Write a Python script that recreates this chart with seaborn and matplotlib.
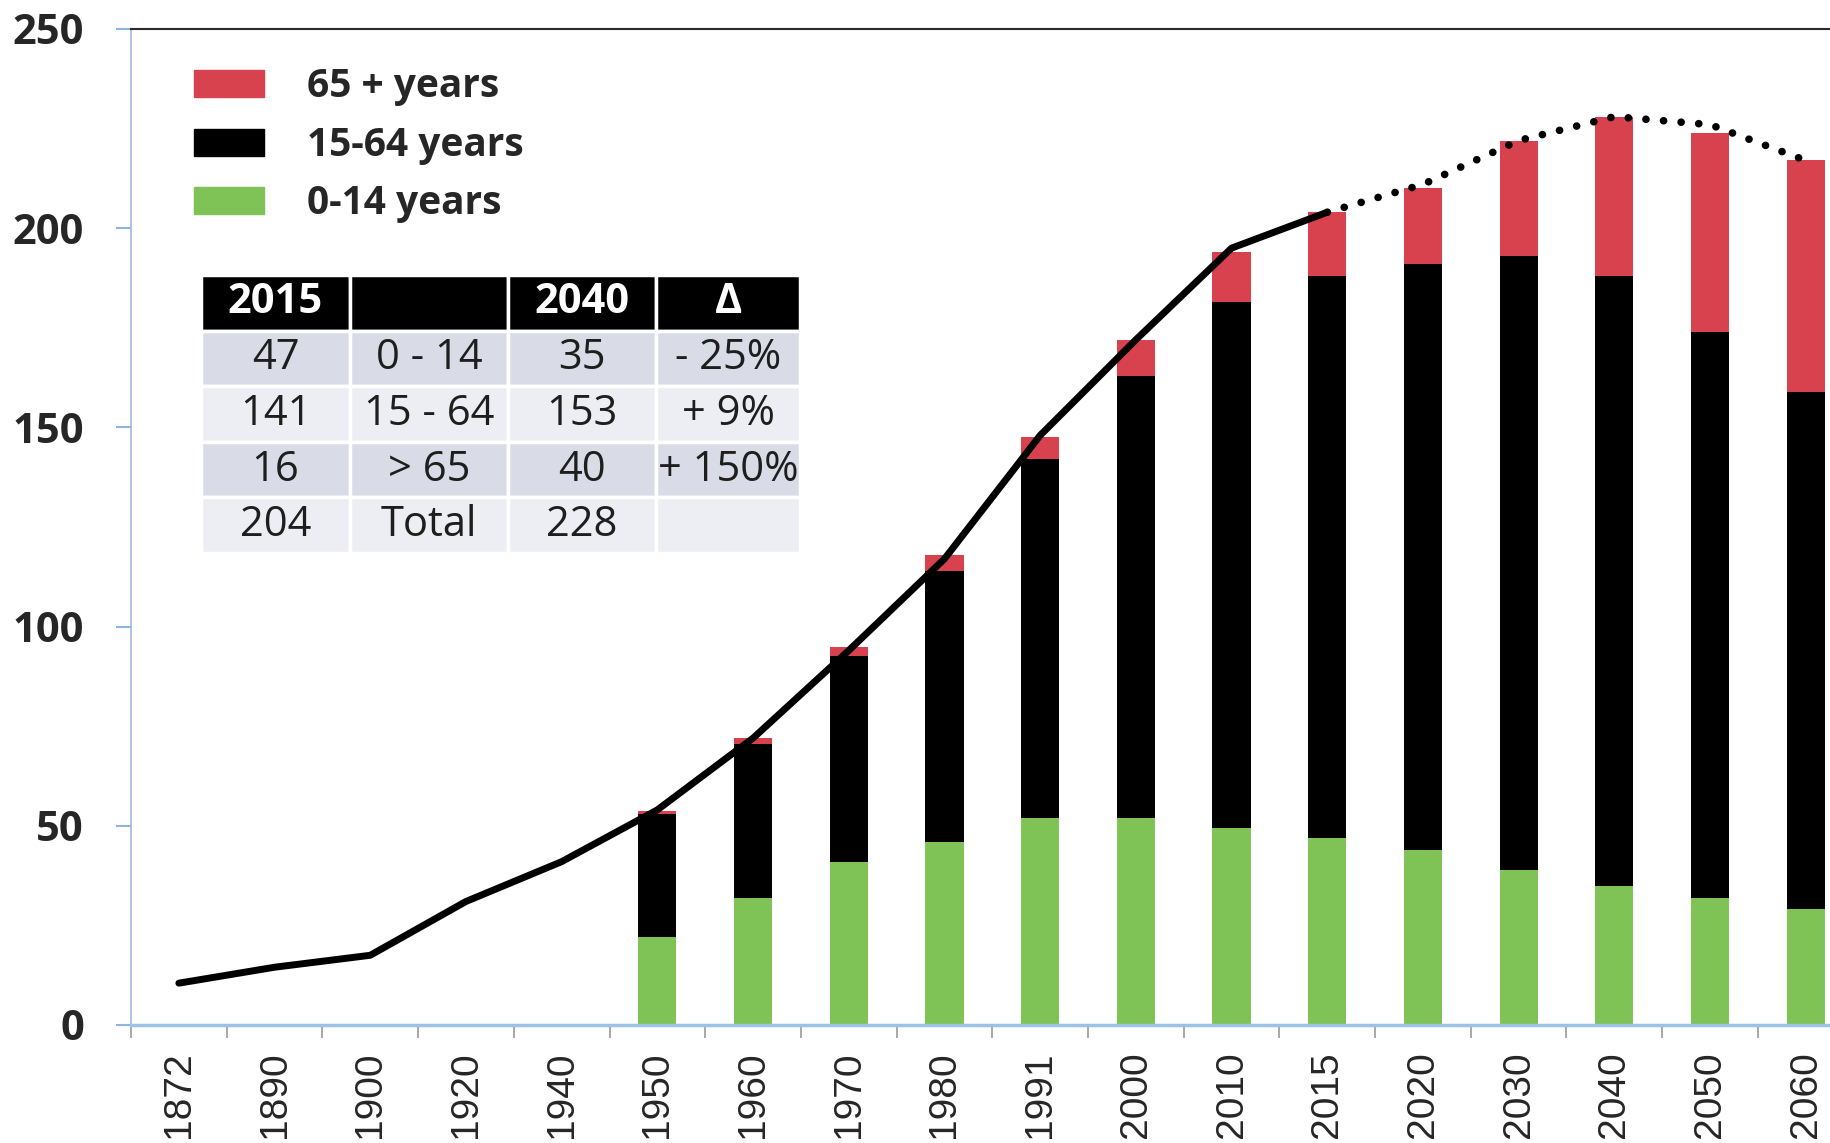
import numpy as np
import pandas as pd
import matplotlib
matplotlib.use("Agg")
import matplotlib.pyplot as plt
import seaborn as sns
from matplotlib.patches import Patch

# categories on the x axis
years = ['1872', '1890', '1900', '1920', '1940', '1950', '1960', '1970', '1980',
         '1991', '2000', '2010', '2015', '2020', '2030', '2040', '2050', '2060']

# stacked bars (1950 onwards)
bar_years = ['1950', '1960', '1970', '1980', '1991', '2000', '2010', '2015',
             '2020', '2030', '2040', '2050', '2060']
age_0_14 = [22, 32, 41, 46, 52, 52, 49.5, 47, 44, 39, 35, 32, 29]
age_15_64 = [31, 38.5, 51.5, 68, 90, 111, 132, 141, 147, 154, 153, 142, 130]
age_65 = [0.7, 1.5, 2.5, 4, 5.5, 9, 12.5, 16, 19, 29, 40, 50, 58]

# total population line
total_hist = [10.5, 14.5, 17.5, 31, 41, 54, 72, 94, 117, 148, 172, 195, 204]   # 1872-2015
total_proj = [204, 211, 222, 228, 226, 217]                                   # 2015-2060

# small table
table_cols = ['2015', '', '2040', 'Δ']
table_rows = [['47', '0 - 14', '35', '- 25%'],
              ['141', '15 - 64', '153', '+ 9%'],
              ['16', '> 65', '40', '+ 150%'],
              ['204', 'Total', '228', '']]

RED = '#D8424F'
BLACK = '#000000'
GREEN = '#7FC255'

sns.set_theme(style='white')
plt.rcParams['font.family'] = ['Open Sans', 'DejaVu Sans']

df = pd.DataFrame({'year': bar_years, 'young': age_0_14,
                   'working': age_15_64, 'old': age_65})
df['lvl1'] = df['young']
df['lvl2'] = df['young'] + df['working']
df['lvl3'] = df['lvl2'] + df['old']

fig = plt.figure(figsize=(18.31, 11.43), dpi=100)
ax = fig.add_axes([131 / 1831, 118 / 1143, 1700 / 1831, 996 / 1143])

# overlay cumulative bars -> stacked look
for col, c in [('lvl3', RED), ('lvl2', BLACK), ('lvl1', GREEN)]:
    sns.barplot(data=df, x='year', y=col, order=years, color=c, saturation=1,
                width=0.4, errorbar=None, linewidth=0, ax=ax)

pos = np.arange(len(years))
sns.lineplot(x=pos[:13], y=total_hist, color='black', linewidth=5, ax=ax)
sns.lineplot(x=pos[12:], y=total_proj, color='black', linewidth=5.5,
             linestyle=(0, (0.01, 2.3)), dash_capstyle='round', ax=ax)

ax.set_xlabel('')
ax.set_ylabel('')

ax.set_xticks(pos)
ax.set_xticklabels(years, rotation=90, fontsize=28, family=['Liberation Sans'])
ax.set_xticks(np.arange(-0.5, len(years), 1), minor=True)
ax.tick_params(axis='x', which='major', bottom=False, length=0, pad=19)
ax.tick_params(axis='x', which='minor', bottom=True, length=9.5, width=1.2,
               color='#9a9a9a', direction='out')

ax.set_yticks(range(0, 251, 50))
ax.tick_params(axis='y', left=True, length=10.8, width=1.5, color='#8DB3E2',
               pad=23, labelsize=30)
for t in ax.get_yticklabels():
    t.set_fontweight('bold')

# limits after ticks (set_xticks would widen the view)
ax.set_xlim(-0.5, -0.5 + 1700 / 95.7)
ax.set_ylim(0, 250)

ax.spines['right'].set_visible(False)
ax.spines['top'].set_color('#2b2b2b')
ax.spines['top'].set_linewidth(1.5)
ax.spines['left'].set_color('#9DB9DE')
ax.spines['left'].set_linewidth(1.2)
ax.spines['bottom'].set_color('#9CC3E6')
ax.spines['bottom'].set_linewidth(2.5)

handles = [Patch(color=RED, label='65 + years'),
           Patch(color=BLACK, label='15-64 years'),
           Patch(color=GREEN, label='0-14 years')]
ax.legend(handles=handles, loc='upper left', bbox_to_anchor=(0.037, 0.9615),
          frameon=False, prop={'weight': 'bold', 'size': 28},
          handlelength=1.8, handleheight=0.7, handletextpad=1.1,
          labelspacing=0.5, borderpad=0, borderaxespad=0)

tbl = ax.table(cellText=table_rows, colLabels=table_cols, cellLoc='center',
               colWidths=[149, 158, 148, 144],
               bbox=[70 / 1700, (1025 - 553) / 996, 599 / 1700, 278 / 996])
tbl.auto_set_font_size(False)
row_bg = {1: '#D9DCE6', 2: '#EDEEF3', 3: '#D9DCE6', 4: '#EDEEF3'}
for (r, c), cell in tbl.get_celld().items():
    cell.set_edgecolor('white')
    cell.set_linewidth(2.5)
    txt = cell.get_text()
    txt.set_fontsize(30)
    if r == 0:
        cell.set_facecolor('black')
        txt.set_color('white')
        txt.set_fontweight('bold')
    else:
        cell.set_facecolor(row_bg[r])
        txt.set_color('#1e1e1e')
tbl.set_zorder(5)

fig.savefig('out.png', dpi=100, facecolor='white')
